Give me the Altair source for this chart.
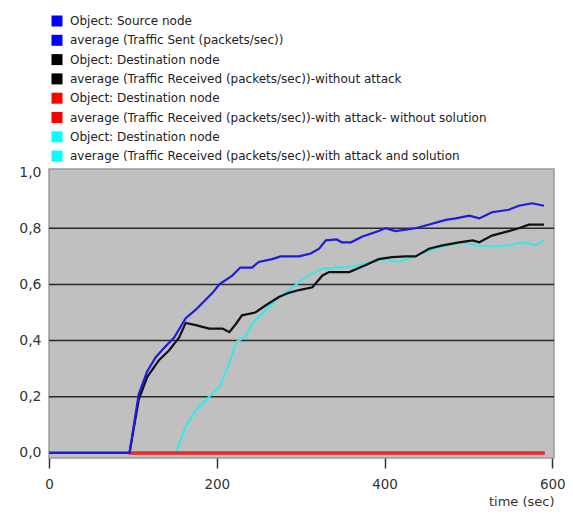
import altair as alt
import pandas as pd

# ---- data ----
sent_t = [0, 96, 107, 117, 127, 139, 149, 163, 175, 195, 203, 218, 228, 242, 250, 266, 276, 298, 312, 322,
          330, 343, 349, 360, 373, 393, 401, 413, 437, 449, 473, 485, 501, 513, 528, 548, 560, 576, 590]
sent_v = [0, 0, 0.21, 0.29, 0.34, 0.38, 0.41, 0.48, 0.51, 0.57, 0.60, 0.63, 0.66, 0.66, 0.68, 0.69, 0.70, 0.70, 0.71, 0.727,
          0.757, 0.76, 0.75, 0.75, 0.77, 0.79, 0.80, 0.79, 0.80, 0.81, 0.83, 0.835, 0.845, 0.835, 0.857, 0.866, 0.88, 0.889, 0.88]

noatk_t = [0, 96, 107, 117, 131, 143, 155, 163, 175, 191, 207, 215, 223, 230, 246, 258, 274, 286, 298, 314, 326,
           334, 358, 377, 393, 409, 425, 437, 453, 469, 489, 505, 513, 528, 548, 560, 572, 590]
noatk_v = [0, 0, 0.19, 0.27, 0.33, 0.365, 0.41, 0.463, 0.455, 0.443, 0.443, 0.43, 0.46, 0.49, 0.50, 0.525, 0.555, 0.57, 0.58, 0.59, 0.632,
           0.644, 0.644, 0.668, 0.69, 0.697, 0.70, 0.70, 0.727, 0.739, 0.75, 0.757, 0.75, 0.774, 0.79, 0.80, 0.813, 0.813]

sol_t = [151, 163, 175, 191, 203, 215, 223, 234, 242, 254, 270, 286, 306, 326, 342, 366, 385, 401, 417, 433,
         453, 469, 493, 501, 509, 528, 548, 564, 580, 590]
sol_v = [0, 0.093, 0.153, 0.20, 0.235, 0.318, 0.395, 0.413, 0.46, 0.496, 0.543, 0.579, 0.626, 0.656, 0.66, 0.665, 0.68, 0.69, 0.68, 0.697,
         0.72, 0.735, 0.75, 0.745, 0.739, 0.735, 0.739, 0.75, 0.74, 0.757]

atk_t = [95, 300, 591]
atk_v = [0, 0, 0]

grid_values = [0.2, 0.4, 0.6, 0.8]
y_ticks = [0, 0.2, 0.4, 0.6, 0.8, 1.0]
x_ticks = [0, 200, 400, 600]

legend_labels = [
    "Object: Source node",
    "average (Traffic Sent (packets/sec))",
    "Object: Destination node",
    "average (Traffic Received (packets/sec))-without attack",
    "Object: Destination node ",
    "average (Traffic Received (packets/sec))-with attack- without solution",
    "Object: Destination node  ",
    "average (Traffic Received (packets/sec))-with attack and solution",
]
legend_colors = ["#0000ff", "#0000ff", "#000000", "#000000", "#ff0000", "#ff0000", "#00ffff", "#00ffff"]

FONT = "DejaVu Sans"

xscale = alt.Scale(domain=[0, 602], nice=False, zero=False)
yscale = alt.Scale(domain=[-0.018, 1.011], nice=False, zero=False)

xaxis = alt.Axis(values=x_ticks, domain=False, grid=False, ticks=True, tickSize=10, tickColor="#333333",
                 tickWidth=1.5, labelFontSize=13.5, labelColor="#333333", labelFont=FONT, labelPadding=9,
                 title="time (sec)", titleAnchor="end", titleFont=FONT, titleFontSize=13,
                 titleFontWeight="normal", titleColor="#333333", titlePadding=5, labelFlush=False)
yaxis = alt.Axis(values=y_ticks, domain=False, grid=False, ticks=False, labelFontSize=14, labelColor="#333333",
                 labelFont=FONT, labelPadding=8, title=None,
                 labelExpr="replace(format(datum.value, '.1f'), '.', ',')")


def line(t, v, color, width):
    df = pd.DataFrame({"t": t, "v": v})
    return alt.Chart(df).mark_line(color=color, strokeWidth=width).encode(
        x=alt.X("t:Q", scale=xscale, axis=xaxis),
        y=alt.Y("v:Q", scale=yscale, axis=yaxis),
    )


grid = alt.Chart(pd.DataFrame({"g": grid_values})).mark_rule(color="#2a2a2a", strokeWidth=1.5).encode(
    y=alt.Y("g:Q", scale=yscale, axis=yaxis)
)

legend_df = pd.DataFrame({"name": legend_labels, "t": [0] * 8, "v": [0] * 8})
legend_layer = alt.Chart(legend_df).mark_square(opacity=0, size=10).encode(
    x=alt.X("t:Q", scale=xscale, axis=xaxis),
    y=alt.Y("v:Q", scale=yscale, axis=yaxis),
    fill=alt.Fill("name:N", scale=alt.Scale(domain=legend_labels, range=legend_colors),
                  legend=alt.Legend(orient="none", legendX=2, legendY=-154, title=None,
                                    symbolType="square", symbolSize=121, symbolStrokeWidth=0,
                                    symbolOpacity=1, labelFont=FONT, labelFontSize=12,
                                    labelColor="#222222", rowPadding=7.3, labelOffset=7,
                                    padding=0, labelLimit=700)),
)

chart = alt.layer(
    grid,
    legend_layer,
    line(sol_t, sol_v, "#3ee6e6", 2.2),
    line(noatk_t, noatk_v, "#111111", 2.2),
    line(atk_t, atk_v, "#e8282a", 3.5),
    line(sent_t, sent_v, "#1c1cdc", 2.2),
).properties(
    width=505, height=289,
    autosize=alt.AutoSizeParams(type="none"),
    padding={"left": 41, "top": 161, "right": 11, "bottom": 51},
    background="#ffffff",
).configure_view(fill="#c0c0c0", stroke="#9a9a9a", strokeWidth=1.5)

chart.save("out.html", embed_options={"renderer": "svg", "actions": False})
